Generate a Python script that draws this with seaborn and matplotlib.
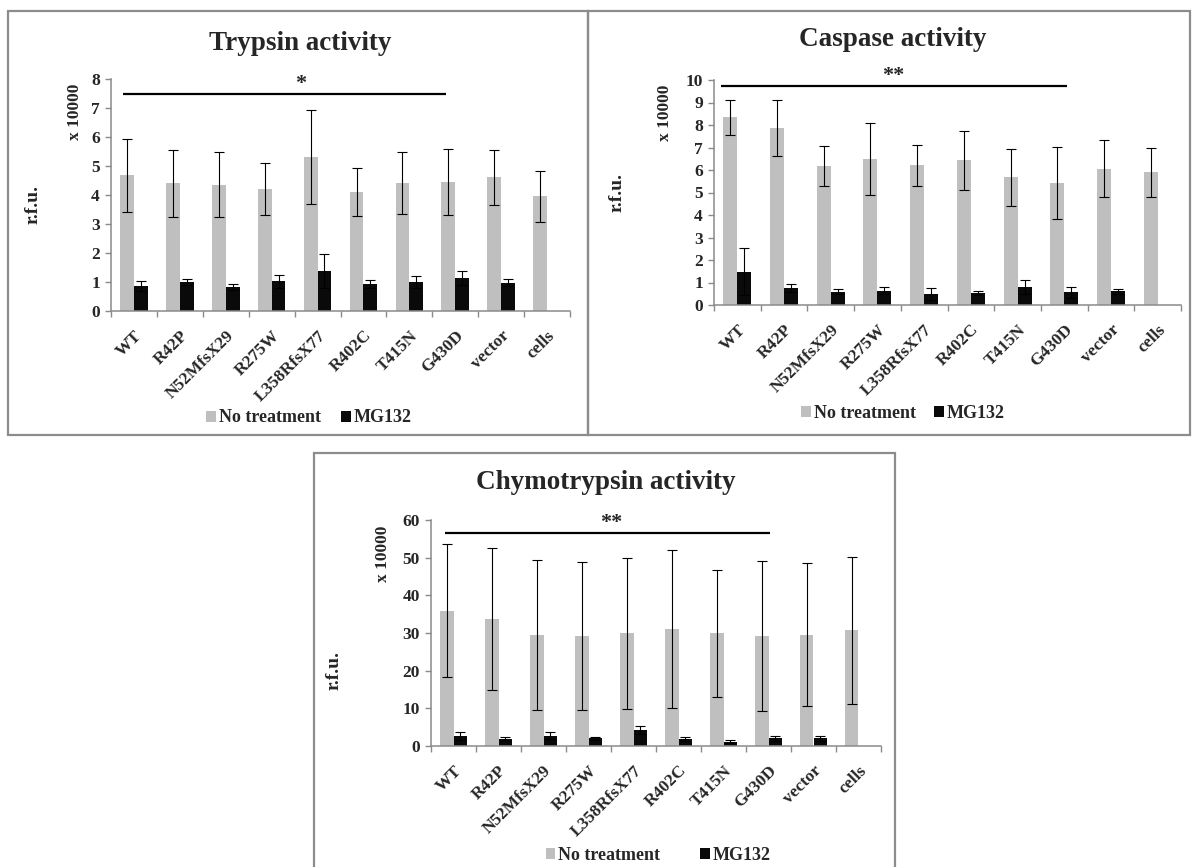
import numpy as np
import pandas as pd
import matplotlib
matplotlib.use("Agg")
import matplotlib.pyplot as plt
import seaborn as sns
from matplotlib.patches import Rectangle
from matplotlib.ticker import FixedLocator

# ---------------- data ----------------
categories = ["WT", "R42P", "N52MfsX29", "R275W", "L358RfsX77",
              "R402C", "T415N", "G430D", "vector", "cells"]
treatments = ["No treatment", "MG132"]

trypsin_none = [4.68, 4.40, 4.36, 4.21, 5.32, 4.10, 4.40, 4.44, 4.61, 3.96]
trypsin_none_err = [1.25, 1.15, 1.13, 0.90, 1.62, 0.82, 1.07, 1.13, 0.95, 0.88]
trypsin_mg = [0.86, 1.00, 0.84, 1.02, 1.38, 0.94, 1.00, 1.13, 0.98, 0.0]
trypsin_mg_err = [0.16, 0.11, 0.10, 0.23, 0.57, 0.13, 0.20, 0.24, 0.11, np.nan]

caspase_none = [8.34, 7.88, 6.18, 6.51, 6.21, 6.43, 5.68, 5.41, 6.05, 5.90]
caspase_none_err = [0.77, 1.25, 0.88, 1.60, 0.92, 1.32, 1.27, 1.60, 1.27, 1.10]
caspase_mg = [1.48, 0.75, 0.59, 0.64, 0.49, 0.53, 0.80, 0.56, 0.61, 0.0]
caspase_mg_err = [1.05, 0.18, 0.12, 0.16, 0.26, 0.10, 0.32, 0.24, 0.10, np.nan]

chymo_none = [35.9, 33.7, 29.5, 29.2, 29.9, 31.0, 29.9, 29.2, 29.5, 30.7]
chymo_none_err = [17.6, 18.8, 20.0, 19.6, 20.0, 21.0, 16.8, 20.0, 19.0, 19.6]
chymo_mg = [2.7, 1.9, 2.7, 2.0, 4.2, 1.9, 1.1, 2.0, 2.0, 0.0]
chymo_mg_err = [1.1, 0.6, 0.9, 0.5, 1.0, 0.6, 0.4, 0.7, 0.7, np.nan]

titles = ["Trypsin activity", "Caspase activity", "Chymotrypsin activity"]
y_max = [8, 10, 60]
y_step = [1, 1, 10]
sig_labels = ["*", "**", "**"]
sig_level = [7.47, 9.73, 56.5]
sig_span = [(-0.23, 6.8), (-0.35, 7.05), (-0.2, 7.03)]
sig_star_x = [3.63, 3.33, 3.5]

# ---------------- style ----------------
sns.set_theme(style="ticks")
plt.rcParams["font.family"] = ["Liberation Serif", "DejaVu Serif"]
plt.rcParams["font.weight"] = "bold"

GRAY = "#BFBFBF"
BLACK = "#0A0A0A"
AXIS = "#8A8A8A"
BORDER = "#8C8C8C"

W, H = 1192, 867
fig = plt.figure(figsize=(W / 100, H / 100), dpi=100)


def fx(px):
    return px / W


def fy(py):
    return 1 - py / H


# layout (pixel based)
layout = [
    dict(ax=(111, 570, 79, 311), title=(300, 43), rfu=(33, 205), scale=(75, 112),
         legend=(309, 418), colspace=1.1),
    dict(ax=(714, 1181, 80, 305), title=(893, 39), rfu=(617, 193), scale=(665, 113),
         legend=(903, 413), colspace=1.0),
    dict(ax=(431, 881, 520, 746), title=(606, 482), rfu=(334, 670), scale=(383, 554),
         legend=(658, 855), colspace=2.2),
]

series = [
    (trypsin_none, trypsin_none_err, trypsin_mg, trypsin_mg_err),
    (caspase_none, caspase_none_err, caspase_mg, caspase_mg_err),
    (chymo_none, chymo_none_err, chymo_mg, chymo_mg_err),
]

# panel borders
fig.add_artist(Rectangle((fx(8), fy(435)), fx(588) - fx(8), fy(11) - fy(435),
                         transform=fig.transFigure, fill=False, edgecolor=BORDER, lw=1.6))
fig.add_artist(Rectangle((fx(588), fy(435)), fx(1190) - fx(588), fy(11) - fy(435),
                         transform=fig.transFigure, fill=False, edgecolor=BORDER, lw=1.6))
fig.add_artist(Rectangle((fx(314), fy(880)), fx(895) - fx(314), fy(453) - fy(880),
                         transform=fig.transFigure, fill=False, edgecolor=BORDER, lw=1.6,
                         clip_on=False))

for i, (lay, (none, none_err, mg, mg_err)) in enumerate(zip(layout, series)):
    x0, x1, ytop, ybot = lay["ax"]
    ax = fig.add_axes([fx(x0), fy(ybot), fx(x1) - fx(x0), fy(ytop) - fy(ybot)])

    df = pd.DataFrame({
        "category": categories * 2,
        "treatment": [treatments[0]] * len(categories) + [treatments[1]] * len(categories),
        "value": list(none) + list(mg),
    })
    sns.barplot(data=df, x="category", y="value", hue="treatment",
                order=categories, hue_order=treatments,
                palette=[GRAY, BLACK], saturation=1, width=0.6, gap=0,
                errorbar=None, linewidth=0, ax=ax)

    for cont, errs in zip(ax.containers, [none_err, mg_err]):
        xs, hs, es = [], [], []
        for bar, e in zip(cont, errs):
            if np.isfinite(e):
                xs.append(bar.get_x() + bar.get_width() / 2)
                hs.append(bar.get_height())
                es.append(e)
        ax.errorbar(xs, hs, yerr=es, fmt="none", ecolor="black",
                    elinewidth=0.8, capsize=3.5, capthick=0.8, zorder=3)

    ax.set_xlim(-0.5, len(categories) - 0.5)
    ax.set_ylim(0, y_max[i])
    ax.set_yticks(np.arange(0, y_max[i] + y_step[i] / 2, y_step[i]))
    ax.set_xticks(range(len(categories)))
    ax.set_xticklabels(categories, rotation=45, ha="right", rotation_mode="anchor",
                       fontsize=12.5, fontweight="bold")
    for lbl in ax.get_yticklabels():
        lbl.set_fontsize(12.5)
        lbl.set_fontweight("bold")
    ax.xaxis.set_minor_locator(FixedLocator(np.arange(-0.5, len(categories), 1)))
    ax.tick_params(axis="x", which="major", length=0, pad=12)
    ax.tick_params(axis="x", which="minor", length=4, width=1, color=AXIS, direction="out")
    ax.tick_params(axis="y", which="major", length=4, width=1, color=AXIS, pad=4,
                   direction="out")
    ax.set_xlabel("")
    ax.set_ylabel("")
    sns.despine(ax=ax)
    for sp in ("left", "bottom"):
        ax.spines[sp].set_color(AXIS)
        ax.spines[sp].set_linewidth(1.1)
    ax.set_facecolor("none")

    # significance bar
    a, b = sig_span[i]
    ax.plot([a, b], [sig_level[i], sig_level[i]], color="black", lw=1.6,
            clip_on=False, solid_capstyle="butt")
    ax.text(sig_star_x[i], sig_level[i], sig_labels[i], ha="center", va="bottom",
            fontsize=16, fontweight="bold", clip_on=False)

    # legend
    sns.move_legend(ax, "center", bbox_to_anchor=(fx(lay["legend"][0]), fy(lay["legend"][1])),
                    bbox_transform=fig.transFigure, ncol=2, frameon=False, title=None,
                    handlelength=0.55, handleheight=0.55, handletextpad=0.15,
                    columnspacing=lay["colspace"],
                    prop={"size": 13, "weight": "bold"})

    # texts
    fig.text(fx(lay["title"][0]), fy(lay["title"][1]), titles[i], ha="center", va="center",
             fontsize=19.5, fontweight="bold")
    fig.text(fx(lay["rfu"][0]), fy(lay["rfu"][1]), "r.f.u.", ha="center", va="center",
             rotation=90, fontsize=14, fontweight="bold")
    fig.text(fx(lay["scale"][0]), fy(lay["scale"][1]), "x 10000", ha="center", va="center",
             rotation=90, fontsize=12.5, fontweight="bold")

fig.savefig("out.png", dpi=100)
